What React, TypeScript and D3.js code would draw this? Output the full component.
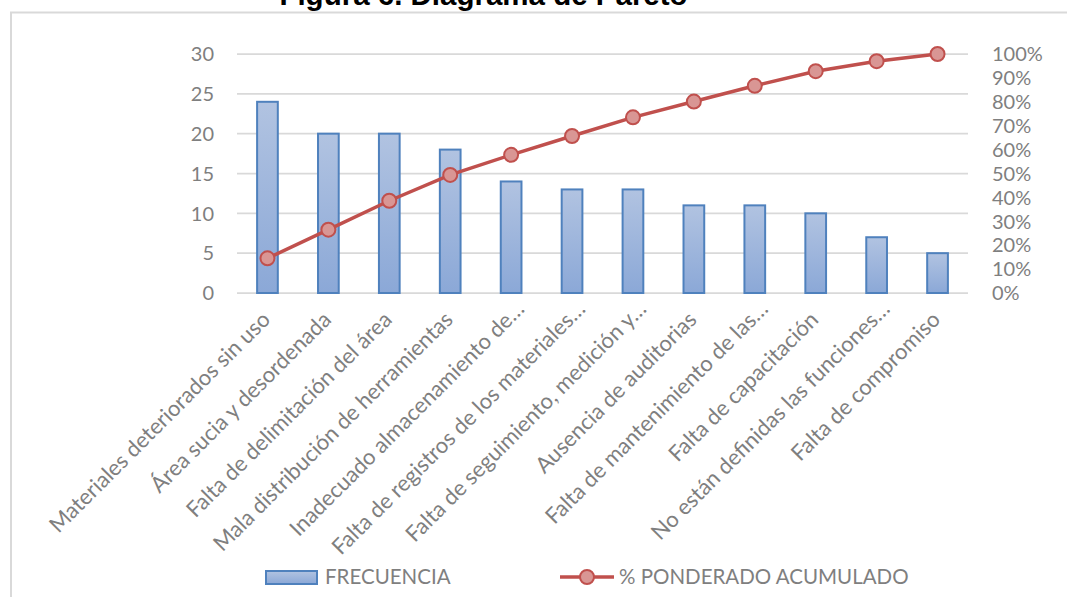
import React from "react";
import * as d3 from "d3";

// Pareto data: causes, their frequency and cumulative weighted percentage
const categories = [
  "Materiales deteriorados sin uso",
  "Área sucia y desordenada",
  "Falta de delimitación del área",
  "Mala distribución de herramientas",
  "Inadecuado almacenamiento de…",
  "Falta de registros de los materiales…",
  "Falta de seguimiento, medición y…",
  "Ausencia de auditorias",
  "Falta de mantenimiento de las…",
  "Falta de capacitación",
  "No están definidas las funciones…",
  "Falta de compromiso",
];
const frecuencia = [24, 20, 20, 18, 14, 13, 13, 11, 11, 10, 7, 5];
const acumulado = [14.5, 26.5, 38.6, 49.4, 57.8, 65.7, 73.5, 80.1, 86.7, 92.8, 97.0, 100];
const leftTicks = [0, 5, 10, 15, 20, 25, 30];
const rightTicks = [0, 10, 20, 30, 40, 50, 60, 70, 80, 90, 100];

const W = 1067;
const H = 597;
const plot = { left: 237, right: 968, top: 54, bottom: 293 };
const FONT = "Lato, 'Open Sans', sans-serif";
const GREY = "#7f7f7f";
const RED = "#c0504d";
const BLUE = "#4f81bd";

export default function App() {
  const x = d3
    .scaleBand<string>()
    .domain(categories)
    .range([plot.left, plot.right])
    .paddingInner(0.66)
    .paddingOuter(0.33);
  const yL = d3.scaleLinear().domain([0, 30]).range([plot.bottom, plot.top]);
  const yR = d3.scaleLinear().domain([0, 100]).range([plot.bottom, plot.top]);
  const cx = (c: string) => (x(c) ?? 0) + x.bandwidth() / 2;

  const line = d3
    .line<number>()
    .x((_, i) => cx(categories[i]))
    .y((d) => yR(d));

  return (
    <svg
      width={W}
      height={H}
      viewBox={`0 0 ${W} ${H}`}
      style={{ position: "absolute", left: 0, top: 0, background: "#fff" }}
    >
      <defs>
        <linearGradient id="barFill" x1="0" y1="0" x2="0" y2="1">
          <stop offset="0%" stopColor="#b1c3e1" />
          <stop offset="100%" stopColor="#8ba8d7" />
        </linearGradient>
      </defs>

      {/* title, partly above the page edge */}
      <text
        x={483.5}
        y={5}
        textAnchor="middle"
        fontFamily="'Liberation Sans', Arial, sans-serif"
        fontWeight="bold"
        fontSize={29.5}
        fill="#000"
      >
        Figura 6. Diagrama de Pareto
      </text>

      {/* chart frame */}
      <path d={`M11,${H} V12.5 H${W}`} fill="none" stroke="#d9d9d9" strokeWidth={2} />

      {/* gridlines */}
      {leftTicks.map((t) => (
        <line
          key={t}
          x1={plot.left}
          x2={plot.right}
          y1={yL(t)}
          y2={yL(t)}
          stroke="#d9d9d9"
          strokeWidth={1.75}
        />
      ))}

      {/* left axis */}
      {leftTicks.map((t) => (
        <text
          key={t}
          x={214}
          y={yL(t)}
          dy="0.36em"
          textAnchor="end"
          fontFamily={FONT}
          fontSize={20}
          fill={GREY}
        >
          {t}
        </text>
      ))}

      {/* right axis */}
      {rightTicks.map((t) => (
        <text
          key={t}
          x={992}
          y={yR(t)}
          dy="0.36em"
          textAnchor="start"
          fontFamily={FONT}
          fontSize={20}
          fill={GREY}
        >
          {t}%
        </text>
      ))}

      {/* bars */}
      {frecuencia.map((v, i) => (
        <rect
          key={i}
          x={x(categories[i])}
          y={yL(v)}
          width={x.bandwidth()}
          height={yL(0) - yL(v)}
          fill="url(#barFill)"
          stroke={BLUE}
          strokeWidth={2}
        />
      ))}

      {/* cumulative line */}
      <path d={line(acumulado) ?? ""} fill="none" stroke={RED} strokeWidth={3.5} />
      {acumulado.map((v, i) => (
        <circle
          key={i}
          cx={cx(categories[i])}
          cy={yR(v)}
          r={7}
          fill="#d99694"
          stroke={RED}
          strokeWidth={2}
        />
      ))}

      {/* category labels */}
      {categories.map((c) => (
        <text
          key={c}
          transform={`translate(${cx(c) + 4},${321}) rotate(-45)`}
          dx={c.endsWith("…") ? 15 : 0}
          textAnchor="end"
          fontFamily={FONT}
          fontSize={22}
          fill={GREY}
        >
          {c}
        </text>
      ))}

      {/* legend */}
      <rect x={266} y={571} width={51} height={13} fill="url(#barFill)" stroke={BLUE} strokeWidth={2} />
      <text x={325} y={584} fontFamily={FONT} fontSize={20.5} fill={GREY}>
        FRECUENCIA
      </text>
      <line x1={560} x2={614} y1={577} y2={577} stroke={RED} strokeWidth={3.5} />
      <circle cx={587} cy={577} r={7} fill="#d99694" stroke={RED} strokeWidth={2} />
      <text x={619} y={584} fontFamily={FONT} fontSize={20.5} fill={GREY}>
        % PONDERADO ACUMULADO
      </text>
    </svg>
  );
}
